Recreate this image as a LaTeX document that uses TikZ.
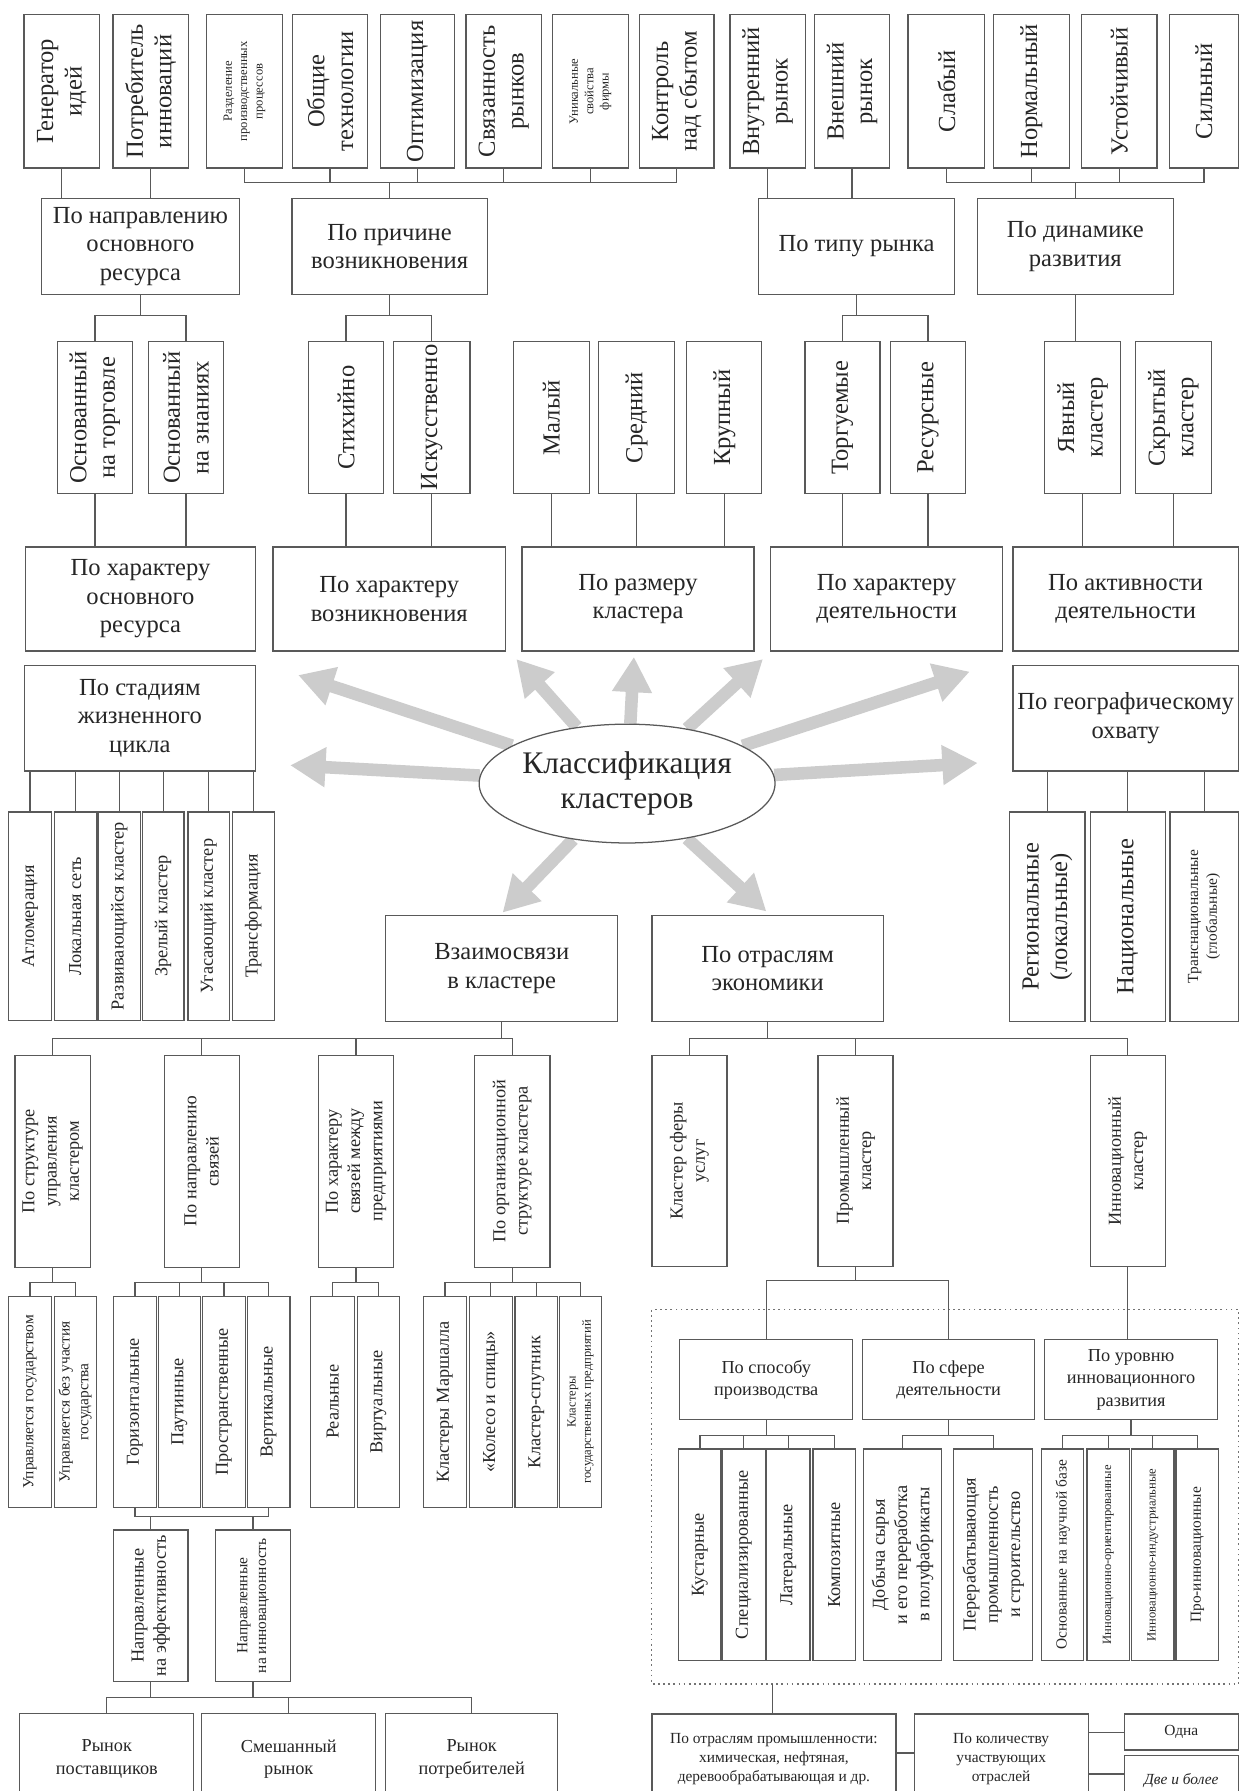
\documentclass[tikz,border=0pt]{standalone}
\usepackage{fontspec}
\setmainfont{Liberation Serif}
\usetikzlibrary{arrows.meta,shapes.geometric,backgrounds}
\newcommand\fbig{\fontsize{21.5}{25}\selectfont}
\newcommand\fmed{\fontsize{16}{19.5}\selectfont}
\newcommand\fsml{\fontsize{13.5}{16.5}\selectfont}
\newcommand\ftny{\fontsize{11}{13.5}\selectfont}
% horizontal box: [opts]{name}{x1}{y1}{x2}{y2}{text}
\newcommand\bx[7][]{\node[cbox,minimum width={(#5-#3)*1pt},minimum height={(#6-#4)*1pt},#1] (#2) at ({(#3+#5)/2},{(#4+#6)/2}) {#7};}
% vertical box (text reads upward)
\newcommand\vb[7][]{\node[cbox,rotate=90,minimum width={(#6-#4)*1pt},minimum height={(#5-#3)*1pt},#1] (#2) at ({(#3+#5)/2},{(#4+#6)/2}) {#7};}
\begin{document}
\begin{tikzpicture}[x=1pt,y=-1pt,
  cbox/.style={draw=black!65,line width=1.1pt,inner sep=1pt,outer sep=0pt,align=center,text=black!85,font=\fbig},
  conn/.style={draw=black!65,line width=1.1pt},
  garrow/.style={draw=black!20,line width=11pt,-{Triangle[width=33pt,length=31pt]}},
  med/.style={font=\fmed}, sml/.style={font=\fsml}, tny/.style={font=\ftny}]
\useasboundingbox (0,0) rectangle (1086,1568);
\clip (0,0) rectangle (1086,1568);
\begin{scope}[on background layer]
\fill[white] (0,0) rectangle (1086,1568);
\end{scope}

% ---------- top row ----------
\vb{gen}{21}{13}{87}{147}{Генератор\\идей}
\vb{potr}{99}{13}{165}{147}{Потребитель\\инноваций}
\vb[tny]{razd}{181}{13}{247}{147}{Разделение\\производственных\\процессов}
\vb{obsh}{256}{13}{322}{147}{Общие\\технологии}
\vb{opt}{333}{13}{398}{147}{Оптимизация}
\vb{svyaz}{408}{13}{474}{147}{Связанность\\рынков}
\vb[tny]{unik}{484}{13}{550}{147}{Уникальные\\свойства\\фирмы}
\vb{kontr}{560}{13}{625}{147}{Контроль\\над сбытом}
\vb{vnutr}{639}{13}{705}{147}{Внутренний\\рынок}
\vb{vnesh}{713}{13}{779}{147}{Внешний\\рынок}
\vb{slab}{795}{13}{862}{147}{Слабый}
\vb{norm}{870}{13}{936}{147}{Нормальный}
\vb{ust}{947}{13}{1013}{147}{Устойчивый}
\vb{silny}{1024}{13}{1084}{147}{Сильный}

% ---------- row 2 ----------
\bx{napr}{36.4}{173.7}{209.5}{257.8}{По направлению\\основного\\ресурса}
\bx{prich}{255.6}{173.7}{426.6}{257.8}{По причине\\возникновения}
\bx{tiprynka}{664.2}{173.7}{835.6}{257.8}{По типу рынка}
\bx{dinam}{855.7}{173.7}{1027.1}{257.8}{По динамике\\развития}

% ---------- row 3 ----------
\vb{osntorg}{50.2}{299.2}{116}{432.1}{Основанный\\на торговле}
\vb{osnzn}{129.9}{299.2}{195.7}{432.1}{Основанный\\на знаниях}
\vb{stih}{270.1}{299.2}{335.9}{432.1}{Стихийно}
\vb{isk}{344.6}{299.2}{411.4}{432.1}{Искусственно}
\vb{maly}{449.5}{299.2}{516}{432.1}{Малый}
\vb{sred}{524}{299.2}{590.5}{432.1}{Средний}
\vb{krup}{601.2}{299.2}{667}{432.1}{Крупный}
\vb{torg}{704.8}{299.2}{770.5}{432.1}{Торгуемые}
\vb{resurs}{779.5}{299.2}{845.3}{432.1}{Ресурсные}
\vb{yavn}{914.6}{299.2}{981.1}{432.1}{Явный\\кластер}
\vb{skryt}{993.9}{299.2}{1060.7}{432.1}{Скрытый\\кластер}

% ---------- row 4 ----------
\bx{harres}{22.5}{478.8}{223.4}{570}{По характеру\\основного\\ресурса}
\bx{harvozn}{239}{478.8}{442.6}{570}{По характеру\\возникновения}
\bx{razmer}{457.1}{478.8}{660}{570}{По размеру\\кластера}
\bx{hardeyat}{674.6}{478.8}{877.9}{570}{По характеру\\деятельности}
\bx{aktiv}{886.9}{478.8}{1084}{570}{По активности\\деятельности}

% ---------- row 5 ----------
\bx{stadii}{21.5}{582.4}{223.4}{675}{По стадиям\\жизненного\\цикла}
\bx{geo}{886.9}{582.4}{1084}{675}{По географическому\\охвату}
\vb[med]{st1}{7.6}{710.9}{45}{893.3}{Агломерация}
\vb[med]{st2}{47.4}{710.9}{84.2}{893.3}{Локальная сеть}
\vb[med]{st3}{85.9}{710.9}{123}{893.3}{Развивающийся кластер}
\vb[med]{st4}{124.7}{710.9}{161}{893.3}{Зрелый кластер}
\vb[med]{st5}{164.5}{710.9}{200.8}{893.3}{Угасающий кластер}
\vb[med]{st6}{203.6}{710.9}{240}{893.3}{Трансформация}
\vb{g1}{884.1}{710.9}{949.9}{894.2}{Региональные\\(локальные)}
\vb{g2}{954.4}{710.9}{1020.2}{894.2}{Национальные}
\vb[sml]{g3}{1024.4}{710.9}{1084}{894.2}{Транснациональные\\(глобальные)}

% ---------- centre ----------
\node[ellipse,draw=black!65,line width=1.1pt,fill=white,minimum width=244pt,minimum height=104pt,inner sep=0pt,align=center,text=black!85,font=\fontsize{27.5}{31}\selectfont] (ell) at (549,686) {Классификация\\кластеров};
\coordinate (t1) at (261,591);
\coordinate (t2) at (254,670);
\coordinate (t3) at (452,577);
\coordinate (t4) at (555,575);
\coordinate (t5) at (668,577);
\coordinate (t6) at (849,588);
\coordinate (t7) at (856,668);
\coordinate (t8) at (671,798);
\coordinate (t9) at (440,799);
\begin{scope}[on background layer]
\foreach \t in {t1,t2,t3,t4,t5,t6,t7,t8,t9} \draw[garrow] (ell) -- (\t);
\end{scope}

\bx{vzaim}{337.6}{801.4}{540.9}{894.5}{Взаимосвязи\\в кластере}
\bx{otrasl}{570.7}{801.4}{773.4}{894.5}{По отраслям\\экономики}

% ---------- bottom left ----------
\vb[med]{strupr}{13.1}{924}{79}{1109.4}{По структуре\\управления\\кластером}
\vb[med]{naprsv}{143.7}{924}{209.5}{1109.4}{По направлению\\связей}
\vb[med]{harsv}{278.8}{924}{344.6}{1109.4}{По характеру\\связей между\\предприятиями}
\vb[med]{orgstr}{415.6}{924}{481.4}{1109.4}{По организационной\\структуре кластера}

\vb[sml]{upr1}{7.6}{1135.1}{45}{1319.6}{Управляется государством}
\vb[sml]{upr2}{47.4}{1135.1}{84.2}{1319.6}{Управляется без участия\\государства}
\vb[med]{gor}{99.4}{1135.1}{136.8}{1319.6}{Горизонтальные}
\vb[med]{paut}{138.5}{1135.1}{175.6}{1319.6}{Паутинные}
\vb[med]{prostr}{177.3}{1135.1}{214.7}{1319.6}{Пространственные}
\vb[med]{vert}{216.4}{1135.1}{253.8}{1319.6}{Вертикальные}
\vb[med]{real}{271.8}{1135.1}{310.6}{1319.6}{Реальные}
\vb[med]{virt}{312.7}{1135.1}{349.8}{1319.6}{Виртуальные}
\vb[med]{marsh}{370.5}{1135.1}{408.6}{1319.6}{Кластеры Маршалла}
\vb[med]{koleso}{411}{1135.1}{448.4}{1319.6}{«Колесо и спицы»}
\vb[med]{sputnik}{450.9}{1135.1}{488.3}{1319.6}{Кластер-спутник}
\vb[tny]{gospred}{490}{1135.1}{526.4}{1319.6}{Кластеры\\государственных предприятий}

\vb[med]{effekt}{99.4}{1339.4}{164.5}{1472}{Направленные\\на эффективность}
\vb[sml]{innov}{188.7}{1339.4}{254.5}{1472}{Направленные\\на инновационность}

\bx[med]{rpost}{17.3}{1500}{169.7}{1580}{Рынок\\поставщиков}
\bx[med]{smesh}{176.6}{1500}{329}{1580}{Смешанный\\рынок}
\bx[med]{rpotr}{337.6}{1500}{488.3}{1580}{Рынок\\потребителей}

% ---------- bottom right ----------
\vb[med]{sfera}{570.7}{924}{636.5}{1108.8}{Кластер сферы\\услуг}
\vb[med]{prom}{716.2}{924}{781.9}{1108.8}{Промышленный\\кластер}
\vb[med]{innkl}{954.4}{924}{1020.2}{1108.8}{Инновационный\\кластер}

\draw[black!55,line width=1pt,dash pattern=on 1.5pt off 3pt] (570.7,1146.7) rectangle (1084.5,1474.3);

\bx[med]{sposob}{595}{1173}{746.6}{1243}{По способу\\производства}
\bx[med]{sferad}{755}{1173}{905.9}{1243}{По сфере\\деятельности}
\bx[med]{uroven}{914.6}{1173}{1065.9}{1243}{По уровню\\инновационного\\развития}

\vb[med]{kust}{594.2}{1268.5}{631.3}{1453.9}{Кустарные}
\vb[med]{spec}{632.3}{1268.5}{670.1}{1453.9}{Специализированные}
\vb[med]{later}{671.1}{1268.5}{709.2}{1453.9}{Латеральные}
\vb[med]{kompoz}{711.7}{1268.5}{749.1}{1453.9}{Композитные}
\vb[med]{dobycha}{756}{1268.5}{824.2}{1453.9}{Добыча сырья\\и его переработка\\в полуфабрикаты}
\vb[med]{pererab}{834.9}{1268.5}{904.2}{1453.9}{Перерабатывающая\\промышленность\\и строительство}
\vb[sml]{nauch}{911.8}{1268.5}{948.9}{1453.9}{Основанные на научной базе}
\vb[tny]{innor}{951.7}{1268.5}{989.1}{1453.9}{Инновационно-ориентированные}
\vb[tny]{innind}{990.8}{1268.5}{1027.8}{1453.9}{Инновационно-индустриальные}
\vb[sml]{proinn}{1029.5}{1268.5}{1067}{1453.9}{Про-инновационные}

\bx[sml]{otrprom}{570.7}{1500.6}{784.4}{1580}{По отраслям промышленности:\\химическая, нефтяная,\\деревообрабатывающая и др.}
\bx[sml]{kolvo}{800.3}{1500.6}{952.7}{1580}{По количеству\\участвующих\\отраслей}
\bx[sml]{odna}{984.5}{1500.6}{1084}{1532}{Одна}
\bx[sml]{dve}{984.5}{1537}{1084}{1580}{\itshape Две и более}

% ---------- connectors: top ----------
\draw[conn] (gen) -- (gen |- napr.north);
\draw[conn] (potr) -- (potr |- napr.north);
\draw[conn] (razd) -- (razd |- 0,160) -- (kontr |- 0,160) -- (kontr);
\foreach \n in {obsh,opt,svyaz,unik} \draw[conn] (\n) -- (\n |- 0,160);
\draw[conn] (prich) -- (prich |- 0,160);
\draw[conn] (vnutr) -- (vnutr |- tiprynka.north);
\draw[conn] (vnesh) -- (vnesh |- tiprynka.north);
\draw[conn] (slab) -- (slab |- 0,160) -- (silny |- 0,160) -- (silny);
\foreach \n in {norm,ust} \draw[conn] (\n) -- (\n |- 0,160);
\draw[conn] (dinam) -- (dinam |- 0,160);

% row 2 -> row 3
\draw[conn] (napr) -- (napr |- 0,276);
\draw[conn] (osntorg) -- (osntorg |- 0,276) -- (osnzn |- 0,276) -- (osnzn);
\draw[conn] (prich) -- (prich |- 0,276);
\draw[conn] (stih) -- (stih |- 0,276) -- (isk |- 0,276) -- (isk);
\draw[conn] (tiprynka) -- (tiprynka |- 0,276);
\draw[conn] (torg) -- (torg |- 0,276) -- (resurs |- 0,276) -- (resurs);
\draw[conn] (dinam) -- (dinam |- yavn.east);

% row 3 -> row 4
\foreach \n/\m in {osntorg/harres,osnzn/harres,stih/harvozn,isk/harvozn,maly/razmer,sred/razmer,krup/razmer,torg/hardeyat,resurs/hardeyat,yavn/aktiv,skryt/aktiv}
  \draw[conn] (\n) -- (\n |- \m.north);

% stages, geography
\foreach \n in {st1,st2,st3,st4,st5,st6} \draw[conn] (stadii.south -| \n) -- (\n);
\foreach \n in {g1,g2,g3} \draw[conn] (geo.south -| \n) -- (\n);

% bottom left
\draw[conn] (vzaim) -- (vzaim |- 0,909.4);
\draw[conn] (strupr) -- (strupr |- 0,909.4) -- (orgstr |- 0,909.4) -- (orgstr);
\foreach \n in {naprsv,harsv} \draw[conn] (\n) -- (\n |- 0,909.4);

\draw[conn] (strupr) -- (strupr |- 0,1122.5);
\draw[conn] (upr1) -- (upr1 |- 0,1122.5) -- (upr2 |- 0,1122.5) -- (upr2);
\draw[conn] (naprsv) -- (naprsv |- 0,1122.5);
\draw[conn] (gor) -- (gor |- 0,1122.5) -- (vert |- 0,1122.5) -- (vert);
\foreach \n in {paut,prostr} \draw[conn] (\n) -- (\n |- 0,1122.5);
\draw[conn] (harsv) -- (harsv |- 0,1122.5);
\draw[conn] (real) -- (real |- 0,1122.5) -- (virt |- 0,1122.5) -- (virt);
\draw[conn] (orgstr) -- (orgstr |- 0,1122.5);
\draw[conn] (marsh) -- (marsh |- 0,1122.5) -- (gospred |- 0,1122.5) -- (gospred);
\foreach \n in {koleso,sputnik} \draw[conn] (\n) -- (\n |- 0,1122.5);

\draw[conn] (gor) -- (gor |- 0,1327.7) -- (vert |- 0,1327.7) -- (vert);
\draw[conn] (effekt) -- (effekt |- 0,1327.7);
\draw[conn] (innov) -- (innov |- 0,1327.7);
\draw[conn] (effekt) -- (effekt |- 0,1486);
\draw[conn] (innov) -- (innov |- 0,1486);
\draw[conn] (rpost) -- (rpost |- 0,1486) -- (rpotr |- 0,1486) -- (rpotr);
\draw[conn] (smesh) -- (smesh |- 0,1486);

% bottom right
\draw[conn] (otrasl) -- (otrasl |- 0,909.4);
\draw[conn] (sfera) -- (sfera |- 0,909.4) -- (innkl |- 0,909.4) -- (innkl);
\draw[conn] (prom) -- (prom |- 0,909.4);
\draw[conn] (prom) -- (prom |- 0,1121);
\draw[conn] (sposob) -- (sposob |- 0,1121) -- (sferad |- 0,1121) -- (sferad);
\draw[conn] (innkl) -- (innkl |- uroven.north);

\draw[conn] (sposob) -- (sposob |- 0,1256.8);
\draw[conn] (kust) -- (kust |- 0,1256.8) -- (kompoz |- 0,1256.8) -- (kompoz);
\foreach \n in {spec,later} \draw[conn] (\n) -- (\n |- 0,1256.8);
\draw[conn] (sferad) -- (sferad |- 0,1256.8);
\draw[conn] (dobycha) -- (dobycha |- 0,1256.8) -- (pererab |- 0,1256.8) -- (pererab);
\draw[conn] (uroven) -- (uroven |- 0,1256.8);
\draw[conn] (nauch) -- (nauch |- 0,1256.8) -- (proinn |- 0,1256.8) -- (proinn);
\foreach \n in {innor,innind} \draw[conn] (\n) -- (\n |- 0,1256.8);

\coordinate (dotb) at (676.3,1474.3);
\draw[conn] (dotb) -- (dotb |- otrprom.north);
\draw[conn] (otrprom.east |- 0,1534.7) -- (kolvo.west |- 0,1534.7);
\draw[conn] (kolvo.east |- 0,1516.6) -- (odna.west |- 0,1516.6);
\draw[conn] (kolvo.east |- 0,1553) -- (dve.west |- 0,1553);
\end{tikzpicture}
\end{document}
